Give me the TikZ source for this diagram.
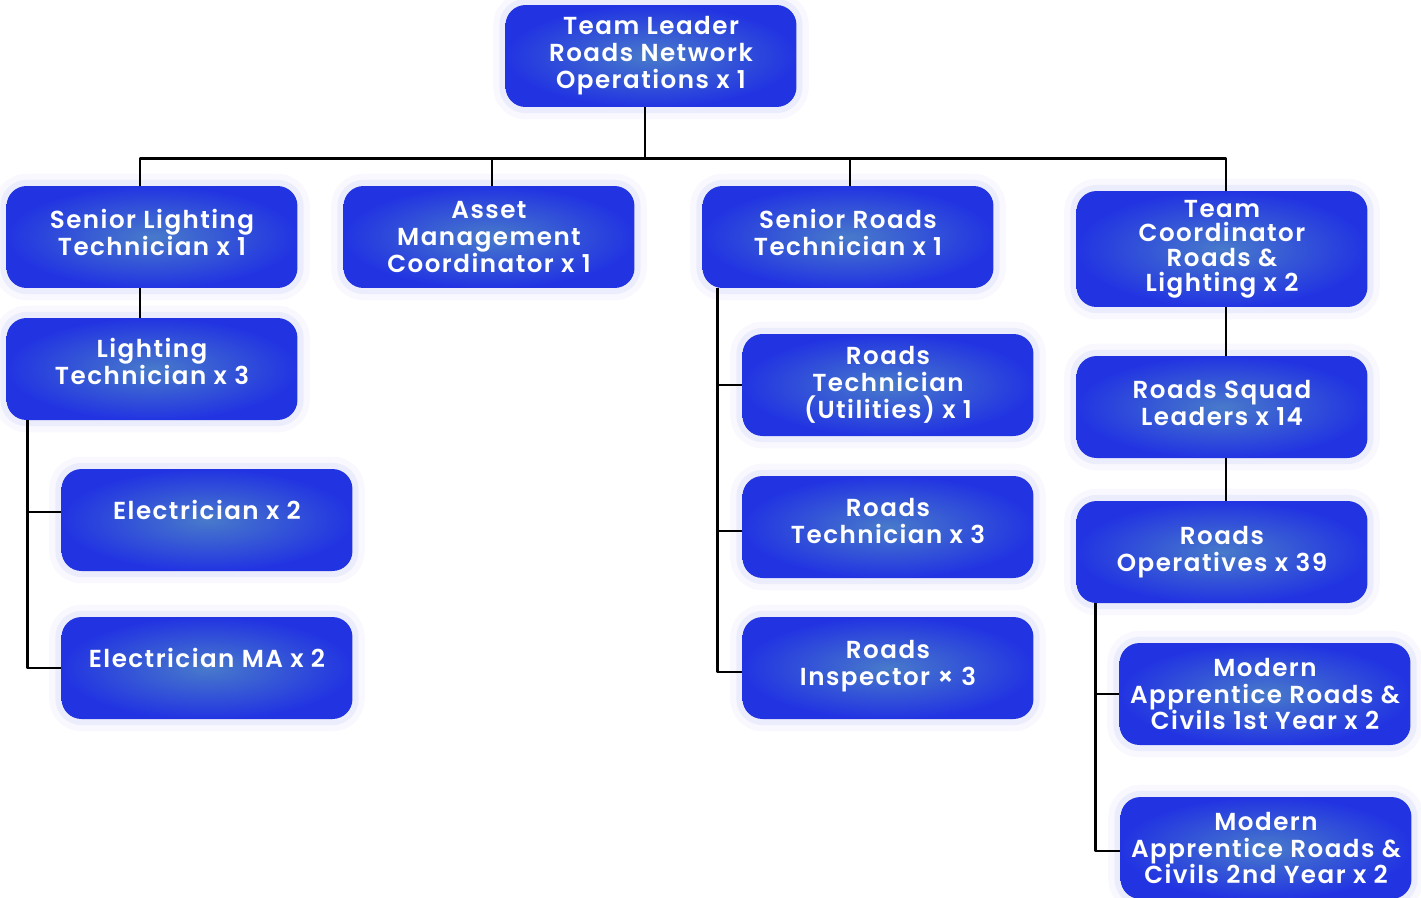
\documentclass[tikz,border=0pt]{standalone}
\usepackage{fontspec}
\setmainfont{Poppins}[LetterSpace=6,BoldFont={Poppins SemiBold}]
\usepackage{tikz}

\definecolor{boxin}{RGB}{72,122,202}
\definecolor{boxout}{RGB}{34,52,226}
\definecolor{glow}{RGB}{150,158,240}

\begin{document}
\begin{tikzpicture}[line cap=round,line join=round,x=0.02cm,y=-0.02cm,
  role/.style={rounded corners=0.4cm,minimum width=5.82cm,minimum height=2.04cm,
    inner color=boxin,outer color=boxout,text=white,align=center,
    font=\fontsize{14}{15.3}\selectfont\bfseries,
    preaction={draw=glow,line width=14pt,draw opacity=0.07},
    preaction={draw=glow,line width=7pt,draw opacity=0.12}},
  lift/.style={text depth=#1},
  link/.style={line width=1.6pt,line cap=butt}]
\useasboundingbox (0,0) rectangle (1421,897);
\node[role] (tl) at (651,56) {Team Leader\\Roads Network\\Operations x 1};
\node[role,lift=5pt] (sl) at (152,237) {Senior Lighting\\Technician x 1};
\node[role] (am) at (489,237) {Asset\\Management\\Coordinator x 1};
\node[role,lift=5pt] (sr) at (848,237) {Senior Roads\\Technician x 1};
\node[role,minimum height=2.32cm,font=\fontsize{14}{14}\selectfont\bfseries] (tc) at (1222,249) {Team\\Coordinator\\Roads \&\\Lighting x 2};
\node[role,lift=9pt] (lt) at (152,369) {Lighting\\Technician x 3};
\node[role,lift=12pt] (el) at (207,520) {Electrician x 2};
\node[role,lift=12pt] (ema) at (207,668) {Electrician MA x 2};
\node[role] (rtu) at (888,385) {Roads\\Technician\\(Utilities) x 1};
\node[role,lift=7pt] (rt) at (888,527) {Roads\\Technician x 3};
\node[role,lift=6pt] (ri) at (888,668) {Roads\\Inspector × 3};
\node[role,lift=5pt] (rsl) at (1222,407) {Roads Squad\\Leaders x 14};
\node[role] (ro) at (1222,552) {Roads\\Operatives x 39};
\node[role] (ma1) at (1265,694) {Modern\\Apprentice Roads \&\\Civils 1st Year x 2};
\node[role] (ma2) at (1266,848) {Modern\\Apprentice Roads \&\\Civils 2nd Year x 2};
\draw[link] ([xshift=-0.12cm]tl.south) -- ++(0,51) coordinate (bus);
\draw[link] ([xshift=-0.24cm]sl.north) |- (bus) -| ([xshift=0.08cm]tc.north);
\draw[link] ([xshift=0.06cm]am.north) -- ([xshift=0.06cm]am.north |- bus);
\draw[link] ([xshift=0.04cm]sr.north) -- ([xshift=0.04cm]sr.north |- bus);
\draw[link] ([xshift=-0.24cm]sl.south) -- ([xshift=-0.24cm]lt.north);
\draw[link] ([xshift=0.42cm]lt.south west) |- ([yshift=0.16cm]el.west);
\draw[link] ([xshift=0.42cm]lt.south west) |- (ema.west);
\draw[link] ([xshift=0.3cm]sr.south west) |- (rtu.west);
\draw[link] ([xshift=0.3cm]sr.south west) |- ([yshift=-0.08cm]rt.west);
\draw[link] ([xshift=0.3cm]sr.south west) |- ([yshift=-0.08cm]ri.west);
\draw[link] ([xshift=0.08cm]tc.south) -- ([xshift=0.08cm]rsl.north);
\draw[link] ([xshift=0.08cm]rsl.south) -- ([xshift=0.08cm]ro.north);
\draw[link] ([xshift=0.38cm]ro.south west) |- (ma1.west);
\draw[link] ([xshift=0.38cm]ro.south west) |- ([yshift=-0.06cm]ma2.west);
\end{tikzpicture}
\end{document}
